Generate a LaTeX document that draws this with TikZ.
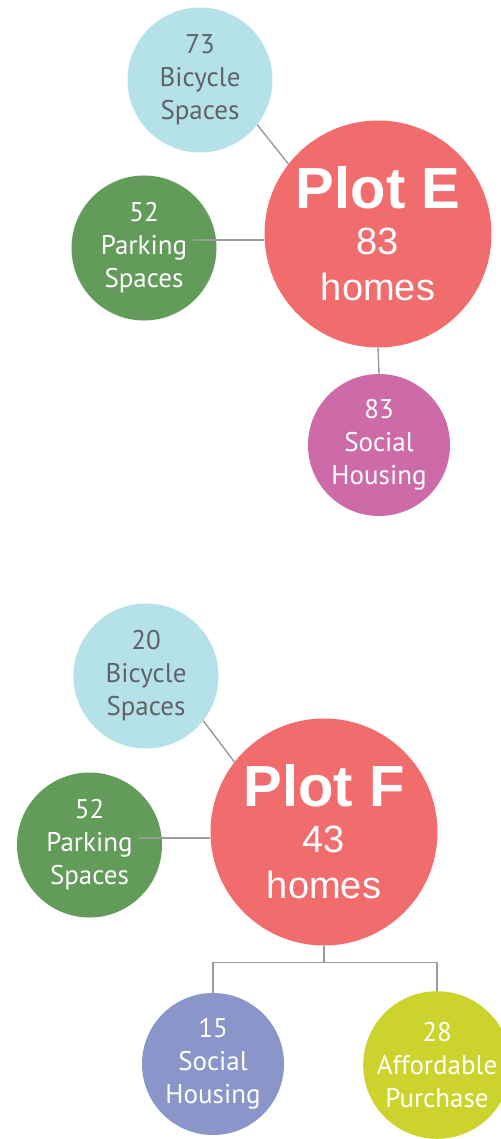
\documentclass[tikz,border=0pt]{standalone}
\usepackage{fontspec}
\setmainfont{Liberation Sans}
\newfontfamily\humanist{PT Sans}
\usetikzlibrary{calc}

\definecolor{bikeblue}{HTML}{B5E2E8}
\definecolor{parkgreen}{HTML}{629B5A}
\definecolor{plotcoral}{HTML}{F16C6C}
\definecolor{socialpink}{HTML}{CD6BA9}
\definecolor{socialblue}{HTML}{8A96CA}
\definecolor{affordlime}{HTML}{CCD32C}
\definecolor{linkgray}{HTML}{9A9A9A}
\definecolor{inkgray}{HTML}{5F6369}

\begin{document}
\begin{tikzpicture}[x=1pt,y=-1pt,
  bubble/.style={circle, inner sep=0pt, align=center, text=white,
    font=\humanist\fontsize{27}{33}\selectfont},
  small/.style={bubble, minimum size=145pt},
  plotbubble/.style={circle, inner sep=0pt, align=center, text=white,
    minimum size=227pt, fill=plotcoral, font=\fontsize{38}{46}\selectfont},
  link/.style={draw=linkgray, line width=1.4pt}
]
\useasboundingbox (0,0) rectangle (500,1139);

% ---- Plot E ----
\node[plotbubble] (plotE) at (378,234)
  {{\fontsize{58}{58}\selectfont\bfseries Plot E}\\83\\homes};
\node[small, fill=bikeblue, text=inkgray] (bikeE) at (200,80) {73\\Bicycle\\Spaces};
\node[small, fill=parkgreen] (parkE) at (144,248) {52\\Parking\\Spaces};
\node[small, fill=socialpink, minimum size=142pt] (socE) at (379,445) {83\\Social\\Housing};

\coordinate (pkE) at ($(parkE.center)+(49,-8)$);
\draw[link] (bikeE.-38) -- (plotE.142.5);
\draw[link] (pkE) -- (pkE -| plotE.west);
\draw[link] (plotE.south) -- (socE.north);

% ---- Plot F ----
\node[plotbubble] (plotF) at (324,832)
  {{\fontsize{58}{58}\selectfont\bfseries Plot F}\\43\\homes};
\node[small, fill=bikeblue, text=inkgray] (bikeF) at (146,676) {20\\Bicycle\\Spaces};
\node[small, fill=parkgreen] (parkF) at (89.5,845) {52\\Parking\\Spaces};
\node[small, fill=socialblue, minimum size=142pt] (socF) at (213,1064) {15\\Social\\Housing};
\node[small, fill=affordlime] (affF) at (437,1065) {28\\Affordable\\Purchase};

\coordinate (pkF) at ($(parkF.center)+(49.5,-7)$);
\draw[link] (bikeF.-38) -- (plotF.142.5);
\draw[link] (pkF) -- (pkF -| plotF.west);
\draw[link] (plotF.south) -- ++(0,17) coordinate (fork);
\draw[link] (socF.north) |- (fork) -| (affF.north);
\end{tikzpicture}
\end{document}
